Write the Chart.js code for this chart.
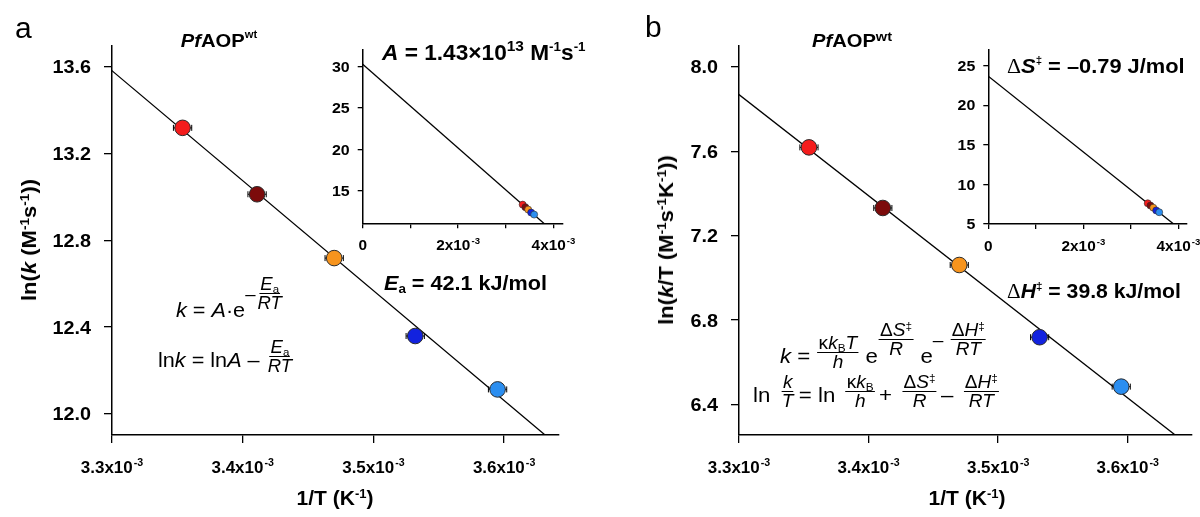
<!DOCTYPE html>
<html>
<head>
<meta charset="utf-8">
<script src="https://cdn.jsdelivr.net/npm/chart.js@4.4.1/dist/chart.umd.min.js"></script>
<style>
  html, body { margin: 0; padding: 0; background: #fff; }
  #fig { position: relative; width: 1200px; height: 517px; overflow: hidden;
         font-family: "Liberation Sans", Arial, sans-serif; color: #000; }
  #fig canvas { position: absolute; }
  .t { position: absolute; white-space: nowrap; line-height: 1; }
  .rot { position: absolute; white-space: nowrap; line-height: 1; font-weight: bold; font-size: 20px;
         transform: translate(-50%, -50%) rotate(-90deg) scaleX(1.1); }
  .b { font-weight: bold; }
  .bl { display: inline-block; width: 0; height: 0; }
  sup, sub { font-size: 0.62em; line-height: 0; position: relative; vertical-align: baseline; }
  sup { top: -0.55em; }
  sub { top: 0.28em; }
  .eq { font-size: 21px; }
  .fr { display: inline-flex; flex-direction: column; align-items: center; font-size: 18px;
        line-height: 1; vertical-align: 14px; margin: 0 1px; }
  .fr > span { padding: 0 1px; }
  .fr > span:first-child { border-bottom: 1.2px solid #000; }
  .fr.up { vertical-align: 27px; }
  .wide .fr { margin: 0 4px; }
  .exm { position: relative; top: -17px; font-size: 18px; }
  .serif { font-family: "Liberation Serif", "Times New Roman", serif; font-weight: normal; }
</style>
</head>
<body>
<div id="fig">
  <canvas id="mainA" width="600" height="517" style="left:0;top:0"></canvas>
  <canvas id="insetA" width="300" height="260" style="left:300px;top:0"></canvas>
  <canvas id="mainB" width="600" height="517" style="left:600px;top:0"></canvas>
  <canvas id="insetB" width="300" height="260" style="left:900px;top:0"></canvas>

  <!-- panel a -->
  <div class="t" data-x="15" data-y="38" style="font-size:30px">a</div>
  <div class="t b" data-x="219" data-y="47" data-align="center" data-sx="1.12" style="font-size:18px"><i>Pf</i>AOP<sup style="font-size:10px;top:-9px">wt</sup></div>
  <div class="t b" data-x="382" data-y="60" data-sx="1.03" style="font-size:22px"><i>A</i> = 1.43×10<sup style="font-size:15px;top:-9px">13</sup> M<sup style="font-size:13px;top:-9px">-1</sup>s<sup style="font-size:13px;top:-9px">-1</sup></div>
  <div class="t b" data-x="384" data-y="290" data-sx="1.08" style="font-size:20px"><i>E</i><sub>a</sub> = 42.1 kJ/mol</div>
  <div class="t eq" data-x="176" data-y="317" data-sx="1.03"><i>k</i> = <i>A</i>·e<span class="exm">–</span><span class="fr up"><span><i>E</i><sub>a</sub></span><span><i>RT</i></span></span></div>
  <div class="t eq" data-x="158" data-y="367" data-sx="1.03">ln<i>k</i> = ln<i>A</i> – <span class="fr"><span><i>E</i><sub>a</sub></span><span><i>RT</i></span></span></div>
  <div class="rot" style="left:29px;top:240px">ln(<i>k</i> (M<sup>-1</sup>s<sup>-1</sup>))</div>
  <div class="t b" data-x="335" data-y="505" data-align="center" data-sx="1.05" style="font-size:20px">1/T (K<sup>-1</sup>)</div>

  <!-- panel b -->
  <div class="t" data-x="645" data-y="37" style="font-size:30px">b</div>
  <div class="t b" data-x="852" data-y="47" data-align="center" data-sx="1.12" style="font-size:18px"><i>Pf</i>AOP<sup style="font-size:13px;top:-6px">wt</sup></div>
  <div class="t b" data-x="1007" data-y="73" data-sx="1.04" style="font-size:21px"><span class="serif">Δ</span><i>S</i><sup style="font-size:11px;top:-9px">‡</sup> = –0.79 J/mol</div>
  <div class="t b" data-x="1007" data-y="298" data-sx="1.06" style="font-size:20px"><span class="serif">Δ</span><i>H</i><sup style="font-size:11px;top:-8px">‡</sup> = 39.8 kJ/mol</div>
  <div class="t eq" data-x="780" data-y="363" data-sx="1.06"><i>k</i> = <span class="fr"><span>κ<i>k</i><sub>B</sub><i>T</i></span><span><i>h</i></span></span> e<span class="fr up"><span>Δ<i>S</i><sup>‡</sup></span><span><i>R</i></span></span> e<span class="exm">–</span> <span class="fr up"><span>Δ<i>H</i><sup>‡</sup></span><span><i>RT</i></span></span></div>
  <div class="t eq wide" data-x="753" data-y="402" data-sx="1.06">ln <span class="fr"><span><i>k</i></span><span><i>T</i></span></span>= ln <span class="fr"><span>κ<i>k</i><sub>B</sub></span><span><i>h</i></span></span>+ <span class="fr"><span>Δ<i>S</i><sup>‡</sup></span><span><i>R</i></span></span>– <span class="fr"><span>Δ<i>H</i><sup>‡</sup></span><span><i>RT</i></span></span></div>
  <div class="rot" style="left:666px;top:240px">ln(<i>k</i>/T (M<sup>-1</sup>s<sup>-1</sup>K<sup>-1</sup>))</div>
  <div class="t b" data-x="967" data-y="505" data-align="center" data-sx="1.05" style="font-size:20px">1/T (K<sup>-1</sup>)</div>
</div>

<script>
// Eyring / Arrhenius data for PfAOP wt (five temperatures)
const invT = [0.003354, 0.003411, 0.003470, 0.003532, 0.003595];
const lnK = [13.318, 13.012, 12.718, 12.359, 12.113];
const lnKoverT = [7.618, 7.331, 7.061, 6.719, 6.485];
const invTErr = [0.000007, 0.000007, 0.000007, 0.000007, 0.000007];
const pointColors = ['#f41c1c', '#7c0b0b', '#f7941d', '#1222df', '#2b8ef0'];

// fitted parameters printed on the plots
const Ea = 42.1;            // kJ/mol
const preExp = 1.43e13;     // M^-1 s^-1
const dH = 39.8;            // kJ/mol
const dS = -0.79;           // J/mol
const Rgas = 8.314;
const kBoverH = 2.0837e10;  // s^-1 K^-1

// axis ticks
const mainXTicks = [0.0033, 0.0034, 0.0035, 0.0036];
const insetXTicks = [0, 0.001, 0.002, 0.003, 0.004];
const insetXLabelled = [0, 0.002, 0.004];
const yTicksA = [12.0, 12.4, 12.8, 13.2, 13.6];
const yTicksB = [6.4, 6.8, 7.2, 7.6, 8.0];
const insetYTicksA = [15, 20, 25, 30];
const insetYTicksB = [5, 10, 15, 20, 25];

// ends of the fitted lines (clipped by the axes)
const fitX = [0, 0.0042];
const fitA = fitX.map(x => ({ x, y: Math.log(preExp) - Ea * 1000 / Rgas * x }));
const fitB = fitX.map(x => ({ x, y: Math.log(kBoverH) + dS / Rgas - dH * 1000 / Rgas * x }));

const ptsA = invT.map((x, i) => ({ x, y: lnK[i] }));
const ptsB = invT.map((x, i) => ({ x, y: lnKoverT[i] }));

const FONT = '"Liberation Sans", Arial, sans-serif';

// text with optional superscript, horizontally stretched a bit
function drawLabel(ctx, x, y, main, sup, size, align, sx) {
    ctx.save();
    ctx.translate(x, y);
    ctx.scale(sx, 1);
    const supSize = Math.round(size * 0.64);
    ctx.font = `bold ${size}px ${FONT}`;
    const w0 = ctx.measureText(main).width;
    ctx.font = `bold ${supSize}px ${FONT}`;
    const w1 = sup ? ctx.measureText(sup).width + 1 : 0;
    const total = w0 + w1;
    const x0 = align === 'center' ? -total / 2 : align === 'right' ? -total : 0;
    ctx.fillStyle = '#000';
    ctx.textAlign = 'left';
    ctx.textBaseline = 'alphabetic';
    ctx.font = `bold ${size}px ${FONT}`;
    ctx.fillText(main, x0, 0);
    if (sup) {
        ctx.font = `bold ${supSize}px ${FONT}`;
        ctx.fillText(sup, x0 + w0 + 1, -size * 0.42);
    }
    ctx.restore();
}

const tickText = {
    id: 'tickText',
    afterDraw(chart, args, o) {
        const { ctx, scales: { x, y } } = chart;
        x.ticks.forEach(t => {
            const lab = o.xLabel(t.value);
            if (!lab) return;
            drawLabel(ctx, x.getPixelForValue(t.value), x.top + o.xOff, lab[0], lab[1], o.xSize, 'center', 1.06);
        });
        y.ticks.forEach(t => {
            const py = y.getPixelForValue(t.value);
            drawLabel(ctx, y.right - o.yOff, py + o.ySize * 0.36, o.yLabel(t.value), null, o.ySize, 'right', 1.1);
        });
    }
};

// small horizontal error bars on the data points
const errorBars = {
    id: 'errorBars',
    beforeDatasetsDraw(chart) {
        const ds = chart.data.datasets[0];
        if (!ds.errX) return;
        const { ctx, scales: { x, y } } = chart;
        ctx.save();
        ctx.strokeStyle = '#000';
        ctx.lineWidth = 1;
        ds.data.forEach((p, i) => {
            const x0 = x.getPixelForValue(p.x - ds.errX[i]);
            const x1 = x.getPixelForValue(p.x + ds.errX[i]);
            const py = y.getPixelForValue(p.y);
            ctx.beginPath();
            ctx.moveTo(x0, py); ctx.lineTo(x1, py);
            ctx.moveTo(x0, py - 3); ctx.lineTo(x0, py + 3);
            ctx.moveTo(x1, py - 3); ctx.lineTo(x1, py + 3);
            ctx.stroke();
        });
        ctx.restore();
    }
};

function axis(o, ticks, minV, maxV, fitFn) {
    return {
        type: 'linear',
        min: minV,
        max: maxV,
        afterBuildTicks: s => { s.ticks = ticks.map(v => ({ value: v })); },
        afterFit: fitFn,
        ticks: { display: false },
        grid: { drawOnChartArea: false, drawTicks: true, tickLength: o.tickLen,
                color: '#000', tickColor: '#000', lineWidth: 1.3 },
        border: { display: true, color: '#000', width: 1.5 }
    };
}

function makePlot(id, o) {
    return new Chart(document.getElementById(id), {
        type: 'scatter',
        data: {
            datasets: [
                {
                    data: o.points,
                    errX: o.errX,
                    pointRadius: o.radius,
                    pointBackgroundColor: pointColors,
                    pointBorderColor: '#2b2b2b',
                    pointBorderWidth: o.radius > 5 ? 1 : 0.6,
                    showLine: false
                },
                {
                    data: o.fit,
                    showLine: true,
                    borderColor: '#000',
                    borderWidth: 1.3,
                    pointRadius: 0,
                    fill: false
                }
            ]
        },
        options: {
            responsive: false,
            animation: false,
            events: [],
            layout: { padding: { left: 0, top: o.padTop, right: o.padRight, bottom: 0 } },
            plugins: {
                legend: { display: false },
                tooltip: { enabled: false },
                tickText: o.labels
            },
            scales: {
                x: axis(o, o.xTicks, o.xMin, o.xMax, s => { s.height = o.xHeight; }),
                y: axis(o, o.yTicks, o.yMin, o.yMax, s => { s.width = o.yWidth; })
            }
        },
        plugins: [tickText, errorBars]
    });
}

const mainXLabel = v => [(v * 1000).toFixed(1) + 'x10', '-3'];
const insetXLabel = v => {
    if (!insetXLabelled.some(t => Math.abs(t - v) < 1e-9)) return null;
    return v === 0 ? ['0', null] : [Math.round(v * 1000) + 'x10', '-3'];
};

makePlot('mainA', {
    points: ptsA, errX: invTErr, fit: fitA, radius: 7.8, tickLen: 8,
    xTicks: mainXTicks, xMin: 0.0033, xMax: 0.003642,
    yTicks: yTicksA, yMin: 11.903, yMax: 13.695,
    padTop: 46, padRight: 41, xHeight: 82, yWidth: 112,
    labels: { xLabel: mainXLabel, xOff: 38, xSize: 16, yLabel: v => v.toFixed(1), yOff: 21, ySize: 18 }
});

makePlot('insetA', {
    points: ptsA, fit: fitA, radius: 3.5, tickLen: 5,
    xTicks: insetXTicks, xMin: 0, xMax: 0.0042,
    yTicks: insetYTicksA, yMin: 11.06, yMax: 32.0,
    padTop: 50, padRight: 37, xHeight: 36.7, yWidth: 62.7,
    labels: { xLabel: insetXLabel, xOff: 27, xSize: 14.5, yLabel: v => String(v), yOff: 13, ySize: 14.5 }
});

makePlot('mainB', {
    points: ptsB, errX: invTErr, fit: fitB, radius: 7.8, tickLen: 8,
    xTicks: mainXTicks, xMin: 0.0033, xMax: 0.003649,
    yTicks: yTicksB, yMin: 6.256, yMax: 8.098,
    padTop: 46, padRight: 5, xHeight: 82, yWidth: 139,
    labels: { xLabel: mainXLabel, xOff: 38, xSize: 16, yLabel: v => v.toFixed(1), yOff: 21, ySize: 18 }
});

makePlot('insetB', {
    points: ptsB, fit: fitB, radius: 3.5, tickLen: 5,
    xTicks: insetXTicks, xMin: 0, xMax: 0.00418,
    yTicks: insetYTicksB, yMin: 5, yMax: 26.98,
    padTop: 50, padRight: 13, xHeight: 36, yWidth: 88.3,
    labels: { xLabel: insetXLabel, xOff: 27, xSize: 14.5, yLabel: v => String(v), yOff: 13, ySize: 14.5 }
});

// place the html labels by their baseline
function placeText() {
    const fig = document.getElementById('fig').getBoundingClientRect();
    document.querySelectorAll('.t').forEach(el => {
        const sx = el.dataset.sx || 1;
        const centered = el.dataset.align === 'center';
        el.style.left = el.dataset.x + 'px';
        el.style.top = '0px';
        el.style.transformOrigin = centered ? 'center' : 'left';
        el.style.transform = (centered ? 'translateX(-50%) ' : '') + `scaleX(${sx})`;
        const mark = document.createElement('span');
        mark.className = 'bl';
        el.appendChild(mark);
        const base = mark.getBoundingClientRect().top - fig.top;
        el.style.top = (+el.dataset.y - base) + 'px';
    });
}
placeText();
</script>
</body>
</html>
